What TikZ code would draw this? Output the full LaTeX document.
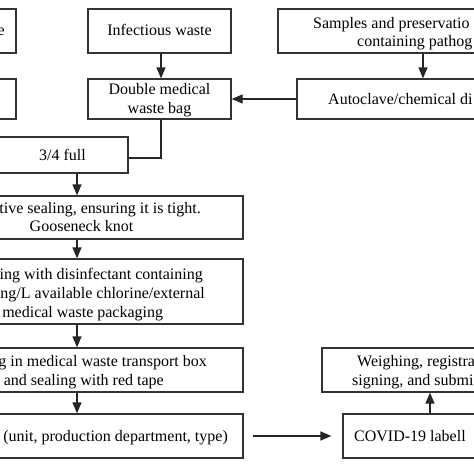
\documentclass[tikz,border=0pt]{standalone}
\usepackage{fontspec}
\setmainfont{Liberation Serif}
\usetikzlibrary{arrows.meta,fit}
\begin{document}
\begin{tikzpicture}[x=1pt,y=-1pt,
  box/.style={draw=black!80, line width=1.3pt, inner sep=0pt, fill=none},
  txt/.style={inner sep=0pt, font=\fontsize{16}{18.5}\selectfont, text=black},
  arr/.style={-{Triangle[length=11pt,width=9pt]}, line width=1.3pt, draw=black!85},
  ln/.style={line width=1.3pt, draw=black!85}]
\useasboundingbox (0,0) rectangle (474,474);
\clip (0,0) rectangle (474,474);
% boxes
\node[box, fit={(-60,9) (16,53)}] (LT) {};
\node[box, fit={(-60,79) (16,119)}] (LM) {};
\node[box, fit={(88,9) (231,53)}] (IW) {};
\node[box, fit={(88,79) (231,119)}] (DB) {};
\node[box, fit={(278,9) (520,53)}] (SP) {};
\node[box, fit={(297,79) (520,119)}] (AC) {};
\node[box, fit={(-10,137) (128,173)}] (FULL) {};
\node[box, fit={(-100,196) (243,239)}] (SEAL) {};
\node[box, fit={(-100,259) (243,324)}] (DIS) {};
\node[box, fit={(-100,348) (243,392)}] (TR) {};
\node[box, fit={(-100,414) (243,458)}] (LAB) {};
\node[box, fit={(322,348) (520,392)}] (WE) {};
\node[box, fit={(343,414) (520,458)}] (CO) {};
% texts
\node[txt, anchor=base east] (tLT) at (5,35) {e};
\node[txt, anchor=base] (tIW) at (159.5,35.5) {Infectious waste};
\node[txt, anchor=base] (tDB1) at (159.5,94.5) {Double medical};
\node[txt, anchor=base] (tDB2) at (159.5,113) {waste bag};
\node[txt, anchor=base west] (tSP1) at (313,28) {Samples and preservatio};
\node[txt, anchor=base west] (tSP2) at (357,46.5) {containing pathog};
\node[txt, anchor=base west] (tAC) at (328,104.5) {Autoclave/chemical di};
\node[txt, anchor=base east] (tFULL) at (86,160.5) {3/4 full};
\node[txt, anchor=base east] (tSE1) at (201,213) {tive sealing, ensuring it is tight.};
\node[txt, anchor=base] (tSE2) at (81.5,231.5) {Gooseneck knot};
\node[txt, anchor=base east] (tDI1) at (203,279) {ing with disinfectant containing};
\node[txt, anchor=base east] (tDI2) at (205,298) {ng/L available chlorine/external};
\node[txt, anchor=base east] (tDI3) at (163.3,317) {medical waste packaging};
\node[txt, anchor=base east] (tTR1) at (207,366.5) {g in medical waste transport box};
\node[txt, anchor=base east] (tTR2) at (164,385) {and sealing with red tape};
\node[txt, anchor=base east] (tLAB) at (228,441.5) {(unit, production department, type)};
\node[txt, anchor=base west] (tWE1) at (357,366.5) {Weighing, registra};
\node[txt, anchor=base west] (tWE2) at (352,385) {signing, and submi};
\node[txt, anchor=base west] (tCO) at (354,441.5) {COVID-19 labell};
% helper coordinates
\coordinate (cx) at (161,0);
\coordinate (lx) at (77,0);
\coordinate (rx) at (423,0);
\coordinate (rx2) at (430,0);
\coordinate (ly) at (0,158);
% connectors
\draw[arr] (IW.south -| cx) -- (DB.north -| cx);
\draw[arr] (SP.south -| rx) -- (AC.north -| rx);
\draw[arr] (AC.west) -- (DB.east);
\draw[ln] (DB.south -| cx) |- (FULL.east |- ly);
\draw[arr] (FULL.south -| lx) -- (SEAL.north -| lx);
\draw[arr] (SEAL.south -| lx) -- (DIS.north -| lx);
\draw[arr] (DIS.south -| lx) -- (TR.north -| lx);
\draw[arr] (TR.south -| lx) -- (LAB.north -| lx);
\draw[arr, shorten <=9pt, shorten >=11pt] (LAB.east) -- (CO.west);
\draw[arr] (CO.north -| rx2) -- (WE.south -| rx2);
\end{tikzpicture}
\end{document}
